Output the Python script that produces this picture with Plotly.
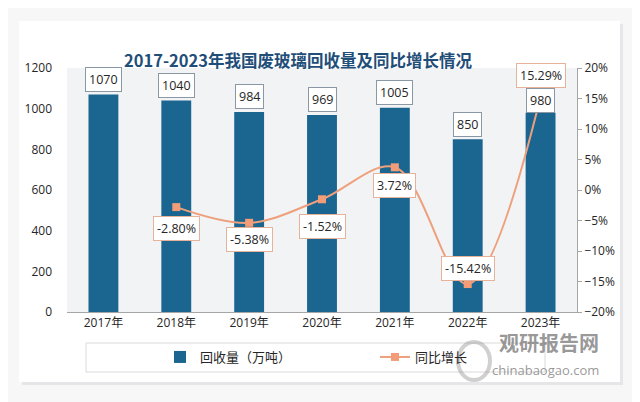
import plotly.graph_objects as go

years = ["2017年", "2018年", "2019年", "2020年", "2021年", "2022年", "2023年"]
recovery = [1070, 1040, 984, 969, 1005, 850, 980]
growth_years = ["2018年", "2019年", "2020年", "2021年", "2022年", "2023年"]
growth = [-2.80, -5.38, -1.52, 3.72, -15.42, 15.29]

bar_name = "回收量（万吨）"
line_name = "同比增长"
title_text = "2017-2023年我国废玻璃回收量及同比增长情况"

BAR_C = "#1a6690"
LINE_C = "#eea07c"
MARK_C = "#f29d78"
TXT = "#262626"
FONT = "Open Sans, Noto Sans CJK SC, sans-serif"

# the page places the figure at (8, 8); work in screenshot pixels and convert
OFF = 8
L, R, T, B = 67, 577, 68, 312          # plot area in screenshot pixels
def px(x): return (x - L) / (R - L)
def py(y): return (B - y) / (B - T)

fig = go.Figure()
fig.add_trace(go.Bar(x=years, y=recovery, name=bar_name, marker=dict(color=BAR_C, line=dict(width=0)),
                     width=0.41, yaxis="y"))
fig.add_trace(go.Scatter(x=growth_years, y=growth, name=line_name, yaxis="y2", mode="lines+markers",
                         line=dict(color=LINE_C, width=2, shape="spline", smoothing=1.0),
                         marker=dict(symbol="square", size=8, color=MARK_C)))

ann = []
bar_shift = [15, 15, 15, 15, 15, 15, 12]
for x, v, s in zip(years, recovery, bar_shift):
    ann.append(dict(x=x, y=v, xref="x", yref="y", text=str(v), showarrow=False, yshift=s,
                    font=dict(size=12.5, color=TXT, family=FONT), bgcolor="white",
                    bordercolor="#8a98a6", borderwidth=1, borderpad=3))
line_shift = [-21, -17, -27, -18, 16, 21]
for x, v, s in zip(growth_years, growth, line_shift):
    ann.append(dict(x=x, y=v, xref="x", yref="y2", text=f"{v:.2f}%", showarrow=False, yshift=s,
                    font=dict(size=12.5, color=TXT, family=FONT), bgcolor="white",
                    bordercolor="#e6b39a", borderwidth=1, borderpad=3))
# title
ann.append(dict(x=px(298), y=py(46), xref="paper", yref="paper", text=f"<b>{title_text}</b>",
                showarrow=False, font=dict(size=16.5, color="#1f4e79", family="Noto Sans CJK SC")))
# watermark
ann.append(dict(x=px(601), y=py(359), xref="paper", yref="paper", xanchor="right", text="<b>观研报告网</b>",
                showarrow=False, font=dict(size=20, color="rgba(125,125,125,0.8)", family="Noto Sans CJK SC")))
ann.append(dict(x=px(601), y=py(381), xref="paper", yref="paper", xanchor="right", text="chinabaogao.com",
                showarrow=False, font=dict(size=13, color="rgba(125,125,125,0.8)", family="Open Sans")))

shapes = [
    dict(type="rect", xref="paper", yref="paper", x0=px(22), x1=px(623), y0=py(24), y1=py(385),
         fillcolor="#e6e6e8", line=dict(width=0), layer="below"),
    dict(type="rect", xref="paper", yref="paper", x0=px(19), x1=px(620), y0=py(21), y1=py(382),
         fillcolor="white", line=dict(width=0), layer="below"),
    dict(type="rect", xref="paper", yref="paper", x0=0, x1=1, y0=0, y1=1,
         fillcolor="#f2f3f4", line=dict(width=0), layer="below"),
    dict(type="rect", xref="paper", yref="paper", x0=px(86), x1=px(545), y0=py(343), y1=py(372),
         fillcolor="rgba(0,0,0,0)", line=dict(width=1, color="#d9d9d9"), layer="below"),
    # watermark swirl (decorative)
    dict(type="circle", xref="paper", yref="paper", x0=px(458), x1=px(490), y0=py(342), y1=py(380),
         fillcolor="rgba(0,0,0,0)", line=dict(width=4, color="rgba(150,150,150,0.45)"), layer="above"),
]

W, H = 640, 402
fig.update_layout(
    width=W, height=H,
    margin=dict(l=L - OFF, r=W - (R - OFF), t=T - OFF, b=H - (B - OFF), autoexpand=False),
    paper_bgcolor="#f7f7f8", plot_bgcolor="rgba(0,0,0,0)",
    showlegend=True,
    legend=dict(orientation="h", x=px(160), y=py(357), xanchor="left", yanchor="middle",
                font=dict(size=13, color=TXT, family="Noto Sans CJK SC"), entrywidth=170,
                bgcolor="rgba(0,0,0,0)", traceorder="normal"),
    xaxis=dict(type="category", showgrid=False, showline=True, linecolor="#a6a6a6", linewidth=1,
               ticks="", tickfont=dict(size=12, color=TXT, family=FONT), range=[-0.5, 6.5]),
    yaxis=dict(range=[0, 1200], dtick=200, showgrid=False, zeroline=False, showline=False,
               tickfont=dict(size=12, color=TXT, family=FONT), ticklabelstandoff=14),
    yaxis2=dict(range=[-20, 20], dtick=5, overlaying="y", side="right", showgrid=False, zeroline=False,
                showline=True, linecolor="#a6a6a6", linewidth=1, ticks="outside", ticklen=4,
                tickcolor="#a6a6a6", ticksuffix="%", tickfont=dict(size=12, color=TXT, family=FONT)),
    annotations=ann, shapes=shapes,
)
fig.write_html("out.html")
